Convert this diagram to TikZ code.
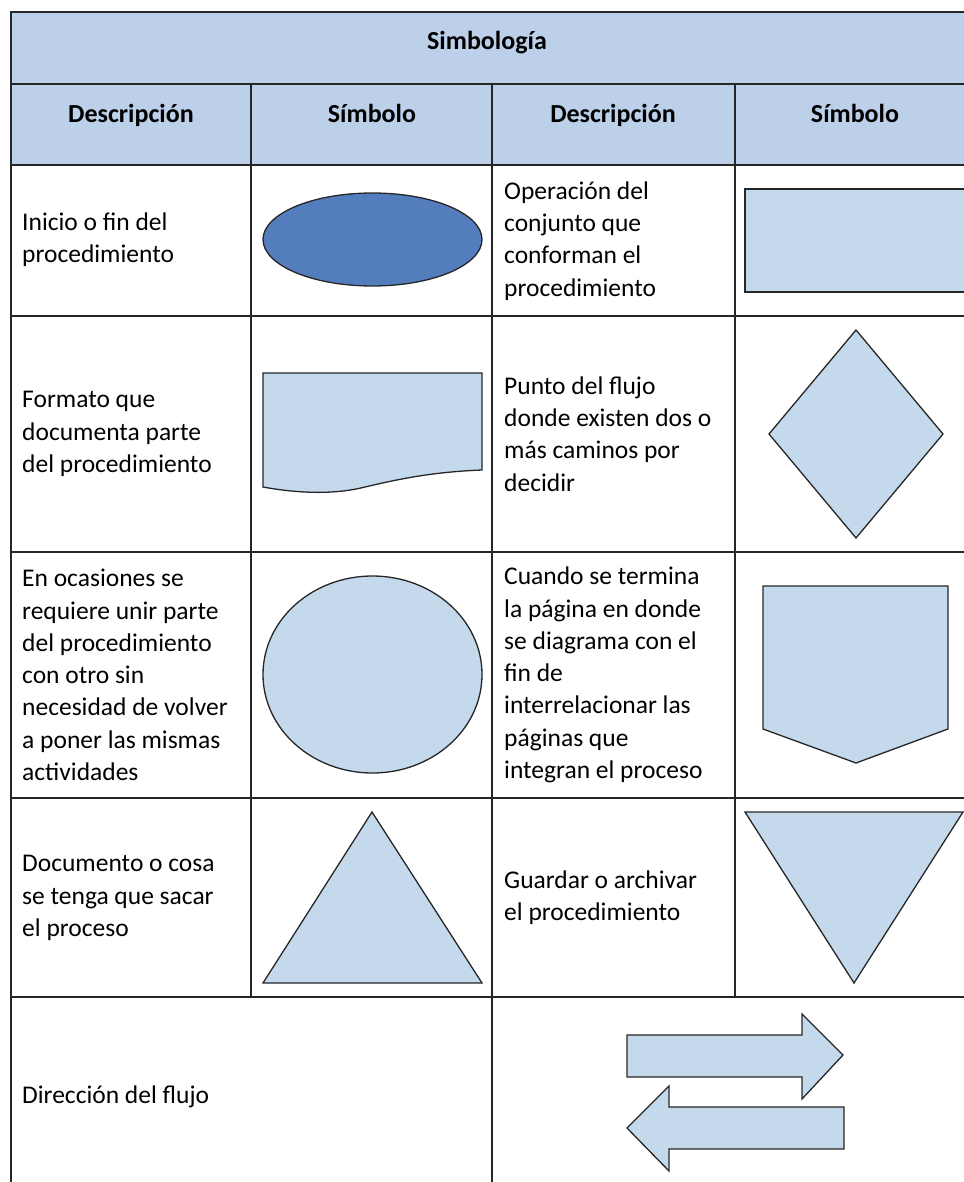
\documentclass[tikz,border=0pt]{standalone}
\usepackage{fontspec}
\setmainfont{Carlito}
\definecolor{hdrfill}{RGB}{189,208,233}
\definecolor{shapefill}{RGB}{197,217,236}
\definecolor{darkfill}{RGB}{84,125,190}
\begin{document}
\begin{tikzpicture}[x=1pt,y=-1pt,line join=miter,
  grid/.style={line width=1.4pt, draw=black!85},
  shp/.style={draw=black!85, line width=1.3pt, fill=shapefill},
  txt/.style={anchor=west, align=left, font=\fontsize{25.5}{32.3}\selectfont, inner sep=0pt},
  hdr/.style={anchor=base, font=\fontsize{26}{32}\selectfont\bfseries, inner sep=0pt}]
\useasboundingbox (0,0) rectangle (963,1182);
% header background
\fill[hdrfill] (11,12) rectangle (975,165);
% grid
\draw[grid] (975,12) -- (11,12) -- (11,1190);
\foreach \yy in {84,165,316,552,798,997} \draw[grid] (11,\yy) -- (975,\yy);
\draw[grid] (251,84) -- (251,997);
\draw[grid] (492,84) -- (492,1190);
\draw[grid] (735,84) -- (735,997);
% headers
\node[hdr] (title) at (487,50) {Simbología};
\node[hdr] (h1) at (131,123) {Descripción};
\node[hdr] (h2) at (372,123) {Símbolo};
\node[hdr] (h3) at (613,123) {Descripción};
\node[hdr] (h4) at (855,123) {Símbolo};
% descriptions
\node[txt] (d1) at (22,240) {Inicio o fin del\\procedimiento};
\node[txt] (d2) at (22,434) {Formato que\\documenta parte\\del procedimiento};
\node[txt] (d3) at (22,675) {En ocasiones se\\requiere unir parte\\del procedimiento\\con otro sin\\necesidad de volver\\a poner las mismas\\actividades};
\node[txt] (d4) at (22,898) {Documento o cosa\\se tenga que sacar\\el proceso};
\node[txt] (d5) at (22,1097) {Dirección del flujo};
\node[txt] (e1) at (504,241) {Operación del\\conjunto que\\conforman el\\procedimiento};
\node[txt] (e2) at (504,434) {Punto del flujo\\donde existen dos o\\más caminos por\\decidir};
\node[txt] (e3) at (504,675) {Cuando se termina\\la página en donde\\se diagrama con el\\fin de\\interrelacionar las\\páginas que\\integran el proceso};
\node[txt] (e4) at (504,898) {Guardar o archivar\\el procedimiento};
% symbols
\draw[shp, fill=darkfill] (372.5,239.5) ellipse [x radius=109.5pt, y radius=46.5pt];
\draw[shp] (745,189) rectangle (975,292);
\draw[shp] (263,373) -- (482,373) -- (482,470)
  .. controls (430,472) and (395,480) .. (365,487)
  .. controls (330,496) and (290,492) .. (263,487) -- cycle;
\draw[shp] (856,330) -- (943,434) -- (856,538) -- (769,434) -- cycle;
\draw[shp] (372.5,674.5) ellipse [x radius=109.5pt, y radius=98.5pt];
\draw[shp] (763,586) -- (948,586) -- (948,729) -- (856,763) -- (763,729) -- cycle;
\draw[shp] (372,812) -- (482,983) -- (263,983) -- cycle;
\draw[shp] (745,812) -- (963,812) -- (854,983) -- cycle;
\draw[shp] (627,1035) -- (802,1035) -- (802,1014) -- (843,1055) -- (802,1099) -- (802,1077) -- (627,1077) -- cycle;
\draw[shp] (844,1107) -- (669,1107) -- (669,1086) -- (627,1128) -- (669,1171) -- (669,1149) -- (844,1149) -- cycle;
\end{tikzpicture}
\end{document}
